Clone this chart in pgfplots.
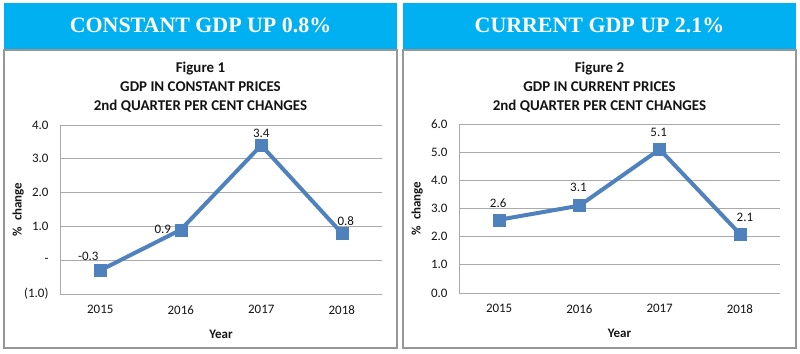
\documentclass[border=0pt]{standalone}
\usepackage{pgfplots}
\pgfplotsset{compat=1.18}
\usepackage{pgfplotstable}
\usepackage{fontspec}
\setmainfont{Carlito}
\newfontfamily\headfont{Liberation Serif}
\definecolor{hdr}{RGB}{0,176,240}
\definecolor{ser}{RGB}{79,129,189}
\definecolor{grd}{RGB}{170,170,170}
\definecolor{bord}{RGB}{150,150,150}
\definecolor{txt}{RGB}{20,20,20}

\pgfplotstableread{
x y lab dx dy
0 -0.3 -0.3 -12 14
1 0.9 0.9 -18 0
2 3.4 3.4 0 12
3 0.8 0.8 4 12
}\constdata
\pgfplotstableread{
x y lab dx dy
0 2.6 2.6 -1 17
1 3.1 3.1 -1 18
2 5.1 5.1 -1 17
3 2.1 2.1 5 17
}\currdata

\newcommand{\tickfont}{\fontsize{13}{14}\selectfont}
\pgfplotsset{
 panel/.style={
  scale only axis, width=321bp, height=169bp,
  xmin=-0.5, xmax=3.5, xtick={0,1,2,3},
  xticklabels={{\tickfont 2015},{\tickfont 2016},{\tickfont 2017},{\tickfont 2018}},
  axis x line*=bottom, axis y line*=left,
  axis line style={grd, line width=1bp, -},
  ymajorgrids, grid style={grd, line width=1bp},
  major tick length=0pt,
  /pgf/number format/assume math mode=true,
  yticklabel style={xshift=-8bp, font=\tickfont, text=txt},
  xticklabel style={yshift=-8bp, font=\tickfont, text=txt},
  xlabel={Year}, ylabel={\%\ \ change},
  every axis x label/.style={at={(axis description cs:0.5,-0.237)}, anchor=center,
     font=\bfseries\fontsize{13}{14}\selectfont, text=txt},
  every axis y label/.style={at={(axis description cs:-0.13,0.5)}, anchor=center, rotate=90,
     font=\bfseries\fontsize{13}{14}\selectfont, text=txt},
  clip=false,
  nodes near coords, point meta=explicit symbolic,
  visualization depends on={\thisrow{dx} \as \dx},
  visualization depends on={\thisrow{dy} \as \dy},
  nodes near coords style={anchor=center, xshift=\dx*1bp, yshift=\dy*1bp,
     font=\fontsize{13}{14}\selectfont, text=txt},
 },
 serstyle/.style={ser, line width=4bp, mark=square*, mark size=6bp,
   mark options={solid, fill=ser, draw=ser, line width=0.5bp}},
}

\begin{document}
\begin{tikzpicture}[x=1bp, y=1bp]
\path[use as bounding box] (0,0) rectangle (800,353);
% panels
\fill[hdr] (4,303) rectangle (397,350);
\draw[bord, line width=1.2bp] (4,5) rectangle (397,303);
\fill[hdr] (403,303) rectangle (796,350);
\draw[bord, line width=1.2bp] (403,5) rectangle (796,303);
\node[text=white, font=\headfont\bfseries\fontsize{22}{24}\selectfont] at (200.5,328) {CONSTANT GDP UP 0.8\%};
\node[text=white, font=\headfont\bfseries\fontsize{22}{24}\selectfont] at (599.5,328) {CURRENT GDP UP 2.1\%};
% titles
\begin{scope}[every node/.style={font=\bfseries\fontsize{15}{16}\selectfont, text=txt, anchor=center}]
\node at (200.5,284) {Figure 1};
\node at (200.5,266) {GDP IN CONSTANT PRICES};
\node at (200.5,246.5) {2nd QUARTER PER CENT CHANGES};
\node at (599.5,284) {Figure 2};
\node at (599.5,266) {GDP IN CURRENT PRICES};
\node at (599.5,246.5) {2nd QUARTER PER CENT CHANGES};
\end{scope}

\begin{axis}[panel, at={(60bp,59bp)}, anchor=south west, width=322bp,
  ymin=-1, ymax=4, ytick={-1,0,1,2,3,4},
  yticklabels={{\tickfont(1.0)},{\tickfont-},{\tickfont 1.0},{\tickfont 2.0},{\tickfont 3.0},{\tickfont 4.0}}]
\addplot[serstyle] table[x=x, y=y, meta=lab] {\constdata};
\end{axis}

\begin{axis}[panel, at={(459bp,60bp)}, anchor=south west,
  ymin=0, ymax=6, ytick={0,1,2,3,4,5,6},
  yticklabels={{\tickfont 0.0},{\tickfont 1.0},{\tickfont 2.0},{\tickfont 3.0},{\tickfont 4.0},{\tickfont 5.0},{\tickfont 6.0}}]
\addplot[serstyle] table[x=x, y=y, meta=lab] {\currdata};
\end{axis}
\end{tikzpicture}
\end{document}
